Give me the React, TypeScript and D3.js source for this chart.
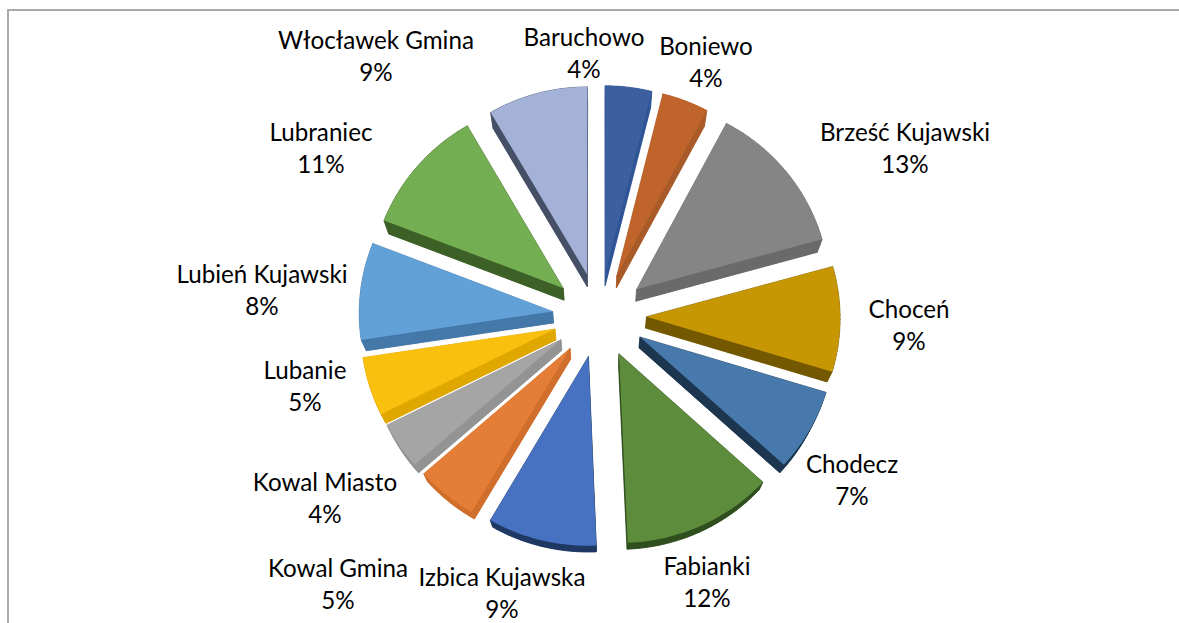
import * as d3 from "d3";

const gminy = [
  "Baruchowo",
  "Boniewo",
  "Brześć Kujawski",
  "Choceń",
  "Chodecz",
  "Fabianki",
  "Izbica Kujawska",
  "Kowal Gmina",
  "Kowal Miasto",
  "Lubanie",
  "Lubień Kujawski",
  "Lubraniec",
  "Włocławek Gmina",
];
const shares = [4.0, 4.0, 13.1, 9.0, 7.0, 12.2, 8.8, 5.0, 4.0, 5.0, 8.3, 10.9, 8.6];
const percentLabels = ["4%", "4%", "13%", "9%", "7%", "12%", "9%", "5%", "4%", "5%", "8%", "11%", "9%"];

const topColors = [
  "#3c5f9f", "#bf652c", "#858585", "#c79603", "#4779ac", "#5e8c3d", "#4672c1",
  "#e47d35", "#a5a5a5", "#fac00e", "#62a0d8", "#74ae52", "#a4b2d8",
];
const wallColors = [
  "#2f5597", "#a85a28", "#6a6a6a", "#745800", "#1c3650", "#2f4f1e", "#1f3864",
  "#d06f2c", "#939393", "#dfa700", "#4478a8", "#3d6026", "#454f66",
];

// label centres, name line then percent line is 32px below
const labelX = [584, 706, 905, 909, 852, 707, 502, 338, 325, 305, 262, 321, 376];
const labelY = [36, 45, 131, 308, 463, 565, 576, 567, 481, 369, 273, 131, 39];

const width = 1179;
const height = 623;
const cx = 599.5;
const cy = 310;
const radiusX = 193.5;
const radiusY = 196;
const explodeX = 47;
const explodeY = 44;
// rough perspective of the tilted pie
const squash = 0.9616;
const bulge = 0.0001076;
const taper = 0.00015;
const apexShift = 5;
// walls shrink toward a vanishing point below the pie
const vanishX = 598;
const vanishY = 830;
const depth = 0.022;

type Pt = [number, number];

function project(a: number, r: number, mid: number): Pt {
  const x = r * radiusX * Math.sin(a) + explodeX * Math.sin(mid);
  const y = -r * radiusY * Math.cos(a) - explodeY * Math.cos(mid);
  const py = y * squash + bulge * y * y + apexShift * (1 - r);
  return [cx + x * (1 + taper * py), cy + py];
}

function drop([x, y]: Pt): Pt {
  return [x + (vanishX - x) * depth, y + (vanishY - y) * depth];
}

const toPath = d3.line<Pt>();

function sliceOutline(startAngle: number, endAngle: number): Pt[] {
  const mid = (startAngle + endAngle) / 2;
  const angles = d3.range(0, 25).map((i) => startAngle + ((endAngle - startAngle) * i) / 24);
  return [project(0, 0, mid), ...angles.map((a) => project(a, 1, mid))];
}

function Slice({ outline, top, wall }: { outline: Pt[]; top: string; wall: string }) {
  const dropped = outline.map(drop);
  return (
    <g>
      <path d={toPath(dropped) + "Z"} fill={wall} stroke={wall} strokeWidth={0.5} />
      {outline.map((p, i) => {
        const next = outline[(i + 1) % outline.length];
        const quad = [p, next, drop(next), drop(p)];
        return <path key={i} d={toPath(quad) + "Z"} fill={wall} stroke={wall} strokeWidth={0.5} />;
      })}
      <path d={toPath(outline) + "Z"} fill={top} />
    </g>
  );
}

export default function App() {
  const pie = d3.pie<number>().sort(null).value((d) => d);
  const arcs = pie(shares);

  return (
    <svg
      width={width}
      height={height}
      style={{ position: "absolute", left: 0, top: 0, background: "#fff" }}
    >
      <path d={`M8 ${height}V10H${width}`} fill="none" stroke="#a9a9a9" strokeWidth={2} />
      {arcs.map((arc, i) => (
        <Slice
          key={gminy[i]}
          outline={sliceOutline(arc.startAngle, arc.endAngle)}
          top={topColors[i]}
          wall={wallColors[i]}
        />
      ))}
      <g fontFamily="Lato, 'Open Sans', sans-serif" fontSize={24.2} fill="#000" textAnchor="middle">
        {gminy.map((name, i) => (
          <g key={name}>
            <text x={labelX[i]} y={labelY[i]} dominantBaseline="central">
              {name}
            </text>
            <text x={labelX[i]} y={labelY[i] + 32} dominantBaseline="central">
              {percentLabels[i]}
            </text>
          </g>
        ))}
      </g>
    </svg>
  );
}
